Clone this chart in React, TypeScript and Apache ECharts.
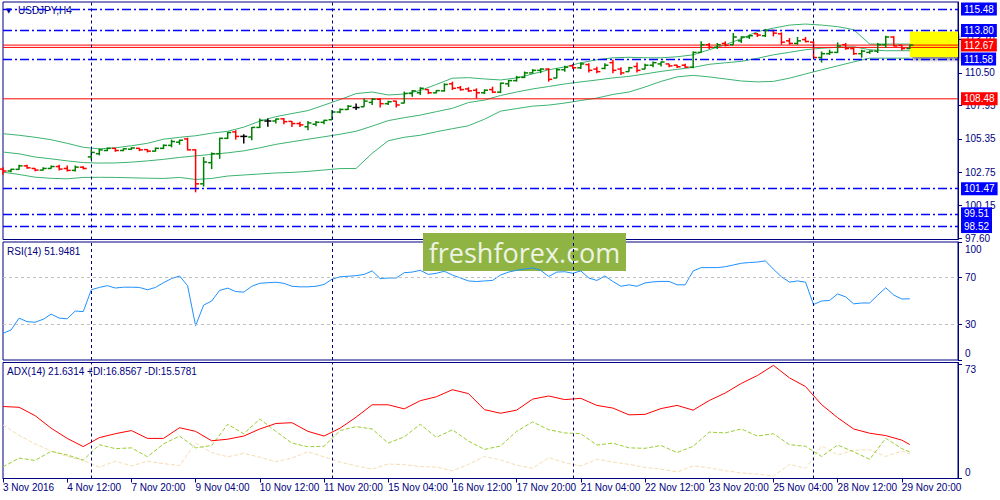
import React, { useEffect, useRef } from "react";
import * as echarts from "echarts";

const FONT = "'Liberation Sans', Arial, sans-serif";
const NAVY = "#000080";
const UP = "#008000";
const DOWN = "#ff0000";
const DOJI = "#000000";

// bottom axis labels, one every 8 H4 bars
const tickLabels = [
  "3 Nov 2016", "4 Nov 12:00", "7 Nov 20:00", "9 Nov 04:00", "10 Nov 12:00",
  "11 Nov 20:00", "15 Nov 04:00", "16 Nov 12:00", "17 Nov 20:00", "21 Nov 04:00",
  "22 Nov 12:00", "23 Nov 20:00", "25 Nov 04:00", "28 Nov 12:00", "29 Nov 20:00",
];
const labelEvery = 8;
const slotCount = 120; // bars + empty chart shift on the right

// weekly period separators (bar index of Monday 00:00)
const weekStarts = [11, 41, 71, 101];

// USDJPY H4 bars: [open, high, low, close]
const bars = [
  [103.0, 103.15, 102.55, 102.85], [102.85, 103.03, 102.76, 102.98], [102.98, 103.34, 102.95, 103.25],
  [103.25, 103.34, 103.03, 103.1], [103.05, 103.07, 102.84, 102.92], [102.92, 103.15, 102.89, 103.05],
  [103.05, 103.29, 103.03, 103.2], [103.2, 103.34, 102.89, 103.0], [103.05, 103.29, 102.82, 102.9],
  [102.9, 103.29, 102.82, 103.15], [103.15, 103.22, 102.98, 103.05], [103.95, 104.55, 103.73, 104.3],
  [104.2, 104.6, 104.07, 104.5], [104.45, 104.68, 104.4, 104.62], [104.62, 104.65, 104.35, 104.45],
  [104.45, 104.62, 104.4, 104.58], [104.55, 104.7, 104.5, 104.65], [104.62, 104.66, 104.4, 104.5],
  [104.52, 104.56, 104.3, 104.4], [104.4, 104.68, 104.36, 104.62], [104.62, 104.93, 104.56, 104.85],
  [104.85, 105.3, 104.7, 105.15], [105.1, 105.3, 104.9, 105.25], [105.35, 105.45, 104.46, 104.5],
  [104.5, 104.55, 101.19, 101.85], [101.85, 103.94, 101.64, 103.55], [103.5, 104.3, 103.0, 104.2],
  [104.2, 105.45, 103.8, 105.4], [105.4, 105.9, 105.35, 105.85], [105.9, 106.03, 105.3, 105.55],
  [105.55, 105.72, 104.99, 105.55], [105.5, 106.29, 105.25, 106.25], [106.25, 106.95, 106.2, 106.8],
  [106.75, 106.95, 106.3, 106.75], [106.75, 106.95, 106.55, 106.9], [106.92, 106.98, 106.5, 106.7],
  [106.72, 106.75, 106.29, 106.55], [106.55, 106.7, 106.29, 106.45], [106.3, 106.75, 106.03, 106.6],
  [106.5, 106.75, 106.35, 106.65], [106.65, 106.85, 106.5, 106.8], [106.85, 107.6, 106.82, 107.45],
  [107.45, 107.73, 107.35, 107.65], [107.65, 107.99, 107.6, 107.9], [107.8, 108.12, 107.6, 107.8],
  [107.86, 108.52, 107.86, 108.3], [108.2, 108.52, 107.99, 108.45], [108.45, 108.52, 107.8, 108.1],
  [108.1, 108.33, 107.99, 108.25], [108.3, 108.33, 107.8, 108.0], [108.15, 109.04, 108.12, 108.9],
  [108.9, 109.17, 108.64, 109.1], [108.95, 109.38, 108.78, 109.3], [109.2, 109.22, 108.85, 108.95],
  [108.95, 109.17, 108.91, 109.12], [109.1, 109.69, 109.04, 109.6], [109.65, 109.82, 109.17, 109.3],
  [109.35, 109.48, 109.11, 109.2], [109.25, 109.38, 109.01, 109.1], [109.15, 109.3, 108.52, 108.95],
  [108.95, 109.22, 108.85, 109.15], [109.2, 109.43, 108.93, 109.0], [109.0, 109.74, 108.93, 109.7],
  [109.65, 109.95, 109.4, 109.9], [109.9, 110.27, 109.82, 110.15], [110.15, 110.61, 110.1, 110.5],
  [110.5, 110.8, 110.45, 110.7], [110.7, 110.87, 110.48, 110.8], [110.8, 110.87, 109.82, 110.0],
  [110.1, 110.87, 110.09, 110.75], [110.75, 111.05, 110.6, 110.95], [111.05, 111.18, 110.8, 110.9],
  [110.9, 111.31, 110.8, 111.2], [111.15, 111.26, 110.53, 110.7], [110.8, 110.99, 110.48, 110.6],
  [110.85, 111.26, 110.79, 111.1], [111.3, 111.52, 110.48, 110.7], [110.8, 110.95, 110.34, 110.5],
  [110.6, 110.99, 110.6, 110.9], [111.0, 111.31, 110.53, 110.7], [110.8, 111.21, 110.78, 111.1],
  [111.1, 111.39, 110.95, 111.3], [111.2, 111.39, 111.0, 111.35], [111.2, 111.21, 110.95, 111.05],
  [111.1, 111.13, 110.89, 110.98], [111.1, 111.21, 110.89, 110.95], [110.95, 112.17, 110.87, 112.1],
  [112.1, 112.96, 112.1, 112.7], [112.7, 112.83, 112.36, 112.5], [112.5, 112.83, 112.36, 112.7],
  [112.8, 112.96, 112.57, 112.65], [112.7, 113.61, 112.7, 113.3], [113.0, 113.35, 112.83, 113.3],
  [113.3, 113.48, 113.15, 113.4], [113.55, 113.61, 113.3, 113.45], [113.4, 113.93, 113.3, 113.8],
  [113.8, 113.87, 113.35, 113.6], [113.55, 113.66, 112.7, 112.9], [113.0, 113.22, 112.7, 112.8],
  [112.8, 113.3, 112.7, 113.0], [113.1, 113.3, 112.88, 112.95], [112.9, 112.96, 111.66, 111.7],
  [111.7, 112.17, 111.31, 112.0], [112.0, 112.31, 111.91, 112.1], [112.1, 112.88, 112.05, 112.6],
  [112.7, 112.83, 112.31, 112.4], [112.4, 112.46, 111.91, 112.0], [112.0, 112.31, 111.68, 112.2],
  [112.1, 112.25, 111.99, 112.2], [112.2, 112.83, 112.05, 112.7], [112.7, 113.4, 112.44, 113.3],
  [113.3, 113.35, 112.57, 112.6], [112.65, 112.7, 112.25, 112.4], [112.4, 112.7, 112.36, 112.67],
];

// Bollinger Bands(20), read every second bar plus the last bar
const bandUpper = [
  105.76, 105.64, 105.48, 105.29, 105.01, 104.7, 104.58, 104.66, 104.82, 105.01,
  105.33, 105.48, 105.6, 105.8, 105.95, 106.27, 106.74, 107.09, 107.33, 107.56,
  107.99, 108.42, 108.89, 109.01, 108.78, 108.85, 109.13, 109.6, 110.09, 110.13,
  110.03, 109.95, 110.11, 110.42, 110.74, 110.97, 111.29, 111.52, 111.68, 111.72,
  111.68, 111.68, 111.76, 111.91, 112.31, 112.7, 113.17, 113.72, 113.99, 114.23,
  114.31, 114.23, 114.11, 113.87, 112.75, 112.75, 112.75, 112.75,
];
const bandMiddle = [
  104.33, 104.19, 103.94, 103.8, 103.64, 103.51, 103.47, 103.48, 103.54, 103.64,
  103.76, 103.91, 104.03, 104.15, 104.27, 104.42, 104.66, 104.93, 105.13, 105.33,
  105.52, 105.72, 105.95, 106.35, 106.78, 107.01, 107.21, 107.48, 107.74, 108.19,
  108.38, 108.74, 109.01, 109.25, 109.44, 109.64, 109.8, 109.95, 110.11, 110.23,
  110.42, 110.62, 110.78, 110.93, 111.17, 111.29, 111.4, 111.64, 111.91, 112.11,
  112.31, 112.42, 112.5, 112.54, 112.31, 112.23, 112.23, 112.23,
];
const bandLower = [
  102.76, 102.58, 102.37, 102.28, 102.24, 102.35, 102.36, 102.35, 102.32, 102.29,
  102.27, 102.35, 102.19, 102.27, 102.46, 102.54, 102.62, 102.7, 102.74, 102.82,
  102.93, 103.04, 103.05, 104.23, 105.21, 105.48, 105.64, 105.91, 106.15, 106.38,
  106.89, 107.52, 107.72, 107.91, 107.99, 108.15, 108.35, 108.54, 108.82, 109.01,
  109.4, 109.84, 110.19, 110.31, 110.19, 110.03, 109.87, 109.8, 109.84, 110.09,
  110.42, 110.74, 111.05, 111.36, 111.65, 111.65, 111.65, 111.65,
];

// RSI(14), one value per bar
const rsi = [
  22.6, 25.4, 35.5, 32.5, 32, 34.5, 38.9, 35.5, 34.9, 41.5,
  41, 59.5, 61.5, 63, 61, 61.7, 61.7, 61.5, 59.5, 61.5,
  65.5, 69, 71.2, 63, 29, 46.5, 50, 59, 60.9, 58,
  57.5, 62.5, 65, 65.5, 65.9, 65, 62.5, 62, 62, 62.5,
  64, 68.5, 70.5, 71, 71.5, 72.5, 75.5, 69, 69.5, 69.5,
  74, 74.5, 76, 72.5, 73.5, 75.2, 72, 69.5, 67, 66.5,
  67, 67.4, 72, 74.5, 76, 77, 78, 76, 70.8, 74.5,
  74.8, 73.5, 75.5, 69.5, 67.4, 71.2, 66.5, 62.5, 63.7, 62.5,
  65.3, 66.2, 66.6, 66.6, 63.7, 63.7, 75.5, 78.3, 78.3, 78.3,
  79, 80.5, 82, 82.6, 83, 84, 77, 70.5, 66, 67,
  66, 47, 50, 50.5, 56, 53.5, 47.6, 48.3, 48.3, 55,
  61.2, 55, 51.7, 51.9,
];

// ADX(14), +DI, -DI, read every second bar plus the last bar
const adx = [
  45.8, 45.3, 40, 32, 25.5, 20.3, 26, 28.5, 30.5, 25.5,
  25.5, 32.3, 30, 24, 25, 27, 31.5, 35, 35.5, 30,
  27, 32, 39, 46.9, 46.9, 44.3, 49.5, 52, 56.5, 54,
  43.8, 41.5, 43.5, 50.5, 52.5, 50.2, 51, 46.5, 44.8, 40.5,
  40.8, 44.5, 46.5, 43.5, 49.6, 54.4, 60.5, 65.5, 72, 64,
  58.5, 47, 38.7, 31.5, 28.8, 27.3, 24.4, 21.6,
];
const plusDi = [
  7.4, 13, 11.5, 17.3, 15, 11.7, 21.5, 19, 19.5, 13.8,
  22, 27, 19.5, 21, 34.5, 28.5, 37.8, 30, 22.5, 20.2,
  20.5, 30.5, 33, 31.5, 22.5, 26.5, 34.5, 26.2, 31, 23.8,
  18.5, 20.7, 30, 36, 31, 29, 28.5, 21.3, 22.5, 19.5,
  19.2, 21, 16.5, 20.5, 29.5, 29, 31.5, 27, 28.5, 21.5,
  20.5, 14, 21.3, 17, 12.2, 25.6, 19, 16.9,
];
const minusDi = [
  34, 27.5, 22, 17.5, 14, 11.5, 7.2, 11, 8, 11,
  9.5, 8.2, 22.5, 16.5, 13.8, 16, 13.5, 10.7, 13, 17,
  13.8, 10.5, 8, 6, 9.2, 8.8, 7.6, 7.3, 4.9, 9,
  14, 11.8, 8.5, 6.5, 13.3, 10, 8, 12.2, 10.5, 9,
  7, 6, 4.2, 8, 6.8, 5, 3.5, 2.8, 1.5, 9,
  6.5, 20.7, 15, 18, 18.3, 14, 17.5, 15.6,
];

// drawn horizontal levels
const blueLevels = [115.48, 113.8, 111.58, 101.47, 99.51, 98.52];
const redLevels = [112.67, 108.48];
const unlabeledRedLevels = [112.49];
const priceTicks = [97.6, 100.15, 102.75, 105.35, 107.95, 110.5, 113.1];
const markedZone = { from: "113", to: "119", top: 113.72, bottom: 111.75 };

const rsiLevels = [30, 70];
const rsiTicks = [0, 30, 70, 100];
const adxTicks = [0, 73];

const priceTitle = "USDJPY,H4";
const rsiTitle = "RSI(14) 51.9481";
const adxTitle = "ADX(14) 21.6314 +DI:16.8567 -DI:15.5781";

const categories = Array.from({ length: slotCount }, (_, i) => String(i));
const sampleIdx = bandUpper.map((_, k) => (k < bandUpper.length - 1 ? k * 2 : bars.length - 1));
const pairs = (vals: number[]) => vals.map((v, k) => [sampleIdx[k], v]);

const separators = weekStarts.map((i) => ({
  xAxis: String(i),
  lineStyle: { color: NAVY, type: [3, 3], width: 1 },
  label: { show: false },
}));

const boxLabel = (bg: string) => ({
  show: true,
  position: "end",
  distance: 3,
  formatter: (p: any) => Number(p.value).toFixed(2),
  color: "#ffffff",
  backgroundColor: bg,
  padding: [2, 3, 1, 3],
  fontSize: 10,
  fontFamily: FONT,
});

// a solid red level drawn as a two-point line across the whole pane
const redLevelSeries = (v: number, labelled: boolean) => ({
  name: "level " + v,
  type: "line",
  xAxisIndex: 0,
  yAxisIndex: 0,
  z: 3,
  silent: true,
  showSymbol: false,
  data: [[0, v], [slotCount - 1, v]],
  lineStyle: { color: "#ff0000", width: 1 },
  itemStyle: { color: "#ff0000" },
  endLabel: labelled
    ? {
        show: true,
        distance: 3,
        formatter: () => v.toFixed(2),
        color: "#ffffff",
        backgroundColor: "#ff0000",
        padding: [2, 3, 1, 3],
        fontSize: 10,
        fontFamily: FONT,
      }
    : { show: false },
});

export default function App() {
  const chartRef = useRef<HTMLDivElement>(null);

  useEffect(() => {
    if (!chartRef.current) return;
    const chart = echarts.init(chartRef.current, undefined, { renderer: "svg" });

    const gridBase = { left: 3, width: 955, show: true, borderColor: NAVY, borderWidth: 1 };
    const axisText = { color: NAVY, fontSize: 10, fontFamily: FONT };
    const everyLabel = (index: number) => index % labelEvery === 0 && index / labelEvery < tickLabels.length;

    const hiddenX = (gridIndex: number) => ({
      type: "category",
      gridIndex,
      data: categories,
      boundaryGap: false,
      axisLine: { show: false },
      axisTick: { show: false },
      axisLabel: { show: false },
      splitLine: { show: false },
    });

    const option: any = {
      animation: false,
      backgroundColor: "#ffffff",
      grid: [
        { ...gridBase, top: 2, height: 237.5 },
        { ...gridBase, top: 242, height: 118 },
        { ...gridBase, top: 362.5, height: 116 },
      ],
      xAxis: [
        hiddenX(0),
        hiddenX(1),
        {
          type: "category",
          gridIndex: 2,
          data: categories,
          boundaryGap: false,
          axisLine: { show: true, lineStyle: { color: NAVY } },
          axisTick: { show: true, interval: everyLabel, length: 4, lineStyle: { color: NAVY } },
          axisLabel: {
            ...axisText,
            interval: everyLabel,
            align: "left",
            margin: 4,
            formatter: (_v: string, index: number) => tickLabels[index / labelEvery] ?? "",
          },
          splitLine: { show: false },
        },
      ],
      yAxis: [
        {
          type: "value",
          gridIndex: 0,
          position: "right",
          min: 97.51,
          max: 116.03,
          axisLine: { show: true, lineStyle: { color: NAVY } },
          axisTick: { show: true, length: 4, customValues: priceTicks, lineStyle: { color: NAVY } },
          axisLabel: { ...axisText, margin: 7, customValues: priceTicks, formatter: (v: number) => v.toFixed(2) },
          splitLine: { show: false },
        },
        {
          type: "value",
          gridIndex: 1,
          position: "right",
          min: 0,
          max: 100,
          axisLine: { show: true, lineStyle: { color: NAVY } },
          axisTick: { show: true, length: 4, customValues: rsiTicks, lineStyle: { color: NAVY } },
          axisLabel: {
            ...axisText,
            margin: 7,
            customValues: [5.7, 30, 70, 94],
            formatter: (v: number) => (v > 90 ? "100" : v < 10 ? "0" : String(v)),
          },
          splitLine: { show: false },
        },
        {
          type: "value",
          gridIndex: 2,
          position: "right",
          min: 0,
          max: 73.8,
          axisLine: { show: true, lineStyle: { color: NAVY } },
          axisTick: { show: true, length: 4, customValues: adxTicks, lineStyle: { color: NAVY } },
          axisLabel: {
            ...axisText,
            margin: 7,
            customValues: [3.8, 69.6],
            formatter: (v: number) => (v > 36 ? "73" : "0"),
          },
          splitLine: { show: false },
        },
      ],
      series: [
        {
          name: "BB upper",
          type: "line",
          xAxisIndex: 0,
          yAxisIndex: 0,
          data: pairs(bandUpper),
          showSymbol: false,
          lineStyle: { color: "#3cb371", width: 1 },
          z: 2,
          markArea: {
            silent: true,
            itemStyle: {
              color: "#ffff00",
              shadowBlur: 3,
              shadowColor: "rgba(0,0,0,0.45)",
              shadowOffsetX: 2,
              shadowOffsetY: 3,
            },
            data: [[
              { xAxis: markedZone.from, yAxis: markedZone.top },
              { xAxis: markedZone.to, yAxis: markedZone.bottom },
            ]],
          },
        },
        {
          name: "BB middle",
          type: "line",
          xAxisIndex: 0,
          yAxisIndex: 0,
          data: pairs(bandMiddle),
          showSymbol: false,
          lineStyle: { color: "#3cb371", width: 1 },
          z: 2,
        },
        {
          name: "BB lower",
          type: "line",
          xAxisIndex: 0,
          yAxisIndex: 0,
          data: pairs(bandLower),
          showSymbol: false,
          lineStyle: { color: "#3cb371", width: 1 },
          z: 2,
        },
        ...redLevels.map((v) => redLevelSeries(v, true)),
        ...unlabeledRedLevels.map((v) => redLevelSeries(v, false)),
        {
          name: "USDJPY",
          type: "custom",
          xAxisIndex: 0,
          yAxisIndex: 0,
          z: 4,
          data: bars.map((b, i) => [i, ...b]),
          encode: { x: 0, y: [1, 2, 3, 4] },
          renderItem: (_params: any, api: any) => {
            const i = api.value(0);
            const o = api.value(1);
            const h = api.value(2);
            const l = api.value(3);
            const c = api.value(4);
            const pHigh = api.coord([i, h]);
            const pLow = api.coord([i, l]);
            const pOpen = api.coord([i, o]);
            const pClose = api.coord([i, c]);
            const color = c > o ? UP : c < o ? DOWN : DOJI;
            const style = { stroke: color, lineWidth: 1.5 };
            const x = pHigh[0];
            return {
              type: "group",
              children: [
                { type: "line", shape: { x1: x, y1: pHigh[1], x2: x, y2: pLow[1] }, style },
                { type: "line", shape: { x1: x - 3.5, y1: pOpen[1], x2: x, y2: pOpen[1] }, style },
                { type: "line", shape: { x1: x, y1: pClose[1], x2: x + 3.5, y2: pClose[1] }, style },
              ],
            };
          },
          markLine: {
            silent: true,
            symbol: ["none", "none"],
            data: [
              ...blueLevels.map((v) => ({
                yAxis: v,
                lineStyle: { color: "#0000ff", type: [9, 3, 2, 3], width: 1.3 },
                label: boxLabel("#0000ff"),
              })),
              ...separators,
            ],
          },
        },
        {
          name: "RSI",
          type: "line",
          xAxisIndex: 1,
          yAxisIndex: 1,
          data: rsi,
          showSymbol: false,
          lineStyle: { color: "#1e90ff", width: 1 },
          markLine: {
            silent: true,
            symbol: ["none", "none"],
            data: [
              ...rsiLevels.map((v) => ({
                yAxis: v,
                lineStyle: { color: "#c0c0c0", type: [3, 3], width: 1 },
                label: { show: false },
              })),
              ...separators,
            ],
          },
        },
        {
          name: "-DI",
          type: "line",
          xAxisIndex: 2,
          yAxisIndex: 2,
          data: pairs(minusDi),
          showSymbol: false,
          lineStyle: { color: "#f5deb3", width: 1, type: [4, 2] },
        },
        {
          name: "+DI",
          type: "line",
          xAxisIndex: 2,
          yAxisIndex: 2,
          data: pairs(plusDi),
          showSymbol: false,
          lineStyle: { color: "#9acd32", width: 1, type: [4, 2] },
        },
        {
          name: "ADX",
          type: "line",
          xAxisIndex: 2,
          yAxisIndex: 2,
          data: pairs(adx),
          showSymbol: false,
          lineStyle: { color: "#ff0000", width: 1 },
          markLine: {
            silent: true,
            symbol: ["none", "none"],
            data: separators,
          },
        },
      ],
      graphic: [
        {
          type: "text",
          x: 6,
          y: 10.5,
          style: { text: "▼", fill: NAVY, fontSize: 7, fontFamily: "DejaVu Sans", verticalAlign: "middle", textVerticalAlign: "middle" },
        },
        {
          type: "text",
          x: 18,
          y: 10.5,
          style: { text: priceTitle, fill: NAVY, fontSize: 10, fontFamily: FONT, verticalAlign: "middle", textVerticalAlign: "middle" },
        },
        {
          type: "text",
          x: 7,
          y: 251.5,
          style: { text: rsiTitle, fill: NAVY, fontSize: 10, fontFamily: FONT, verticalAlign: "middle", textVerticalAlign: "middle" },
        },
        {
          type: "text",
          x: 7,
          y: 371.5,
          style: { text: adxTitle, fill: NAVY, fontSize: 10, fontFamily: FONT, verticalAlign: "middle", textVerticalAlign: "middle" },
        },
        {
          type: "group",
          x: 423,
          y: 233,
          z: 100,
          children: [
            { type: "rect", shape: { x: 0, y: 0, width: 203, height: 38 }, style: { fill: "#8fb443" } },
            {
              type: "text",
              x: 101.5,
              y: 19,
              style: {
                text: "freshforex.com",
                fill: "#eef3e4",
                fontSize: 27,
                fontFamily: "'Open Sans', sans-serif",
                align: "center",
                textAlign: "center",
                verticalAlign: "middle",
                textVerticalAlign: "middle",
              },
            },
          ],
        },
      ],
    };

    chart.setOption(option);
    return () => chart.dispose();
  }, []);

  return (
    <div
      ref={chartRef}
      style={{ position: "fixed", left: 0, top: 0, width: 1000, height: 500, background: "#ffffff" }}
    />
  );
}
